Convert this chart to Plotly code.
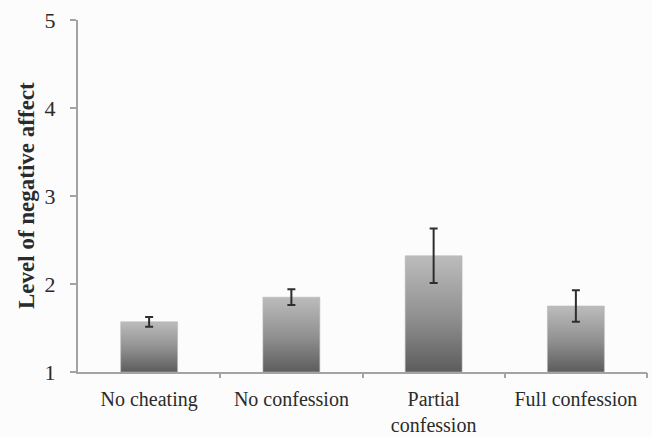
import plotly.graph_objects as go

categories = ["No cheating", "No confession", "Partial<br>confession", "Full confession"]
means = [1.57, 1.85, 2.32, 1.75]
errors = [0.055, 0.09, 0.31, 0.18]
y_ticks = [1, 2, 3, 4, 5]

BASE = 1
HALF = 0.2
FONT = "Liberation Serif, Times New Roman, serif"
AXIS = "#a3a3a3"
BG = "#fcfcfc"

fig = go.Figure()
for i, m in enumerate(means):
    xs = [i - HALF, i + HALF, i + HALF, i - HALF, i - HALF]
    ys = [BASE, BASE, m, m, BASE]
    fig.add_trace(go.Scatter(
        x=xs, y=ys, mode="lines", fill="toself",
        line=dict(width=0.6, color="#b8b8b8"),
        fillgradient=dict(type="vertical",
                          colorscale=[[0, "#5c5c5c"], [0.45, "#8e8e8e"], [1, "#bcbcbc"]]),
        hoverinfo="skip", showlegend=False))

fig.add_trace(go.Scatter(
    x=list(range(len(means))), y=means, mode="markers",
    marker=dict(size=1, color="rgba(0,0,0,0)"),
    error_y=dict(type="data", array=errors, visible=True, color="#2e2e2e", thickness=2, width=4),
    showlegend=False, hoverinfo="skip"))

# invisible trace on overlay axis for boundary ticks
fig.add_trace(go.Scatter(x=[0.5], y=[None], xaxis="x2", showlegend=False, hoverinfo="skip"))

fig.update_layout(
    width=652, height=438,
    margin=dict(l=78, r=5, t=20, b=66),
    paper_bgcolor=BG, plot_bgcolor=BG,
    font=dict(family=FONT, color="#333333"),
    xaxis=dict(range=[-0.5, 3.5], tickvals=list(range(len(categories))), ticktext=categories,
               ticks="", showline=True, linecolor=AXIS, linewidth=2, showgrid=False,
               zeroline=False, ticklabelstandoff=8, automargin=False,
               tickfont=dict(size=20, family=FONT, color="#2b2b2b")),
    xaxis2=dict(range=[-0.5, 3.5], overlaying="x", side="bottom", tickvals=[0.5, 1.5, 2.5, 3.5],
                ticks="outside", ticklen=5, tickcolor=AXIS, tickwidth=1.5, automargin=False,
                showticklabels=False, showgrid=False, zeroline=False, showline=False),
    yaxis=dict(range=[1, 5], tickvals=y_ticks, ticks="outside", ticklen=6, tickcolor=AXIS,
               tickwidth=1.5, showline=True, linecolor=AXIS, linewidth=2, showgrid=False,
               zeroline=False, ticklabelstandoff=10, automargin=False,
               tickfont=dict(size=22, family=FONT, color="#2b2b2b")),
    annotations=[dict(text="<b>Level of negative affect</b>", xref="paper", yref="paper",
                      x=-52 / 569, y=0.5, xanchor="center", yanchor="middle",
                      textangle=-90, showarrow=False,
                      font=dict(size=23, family=FONT, color="#2b2b2b"))],
)

fig.write_html("out.html", config={"displayModeBar": False},
               post_script="document.body.style.margin='0';document.body.style.background='#fcfcfc';")
